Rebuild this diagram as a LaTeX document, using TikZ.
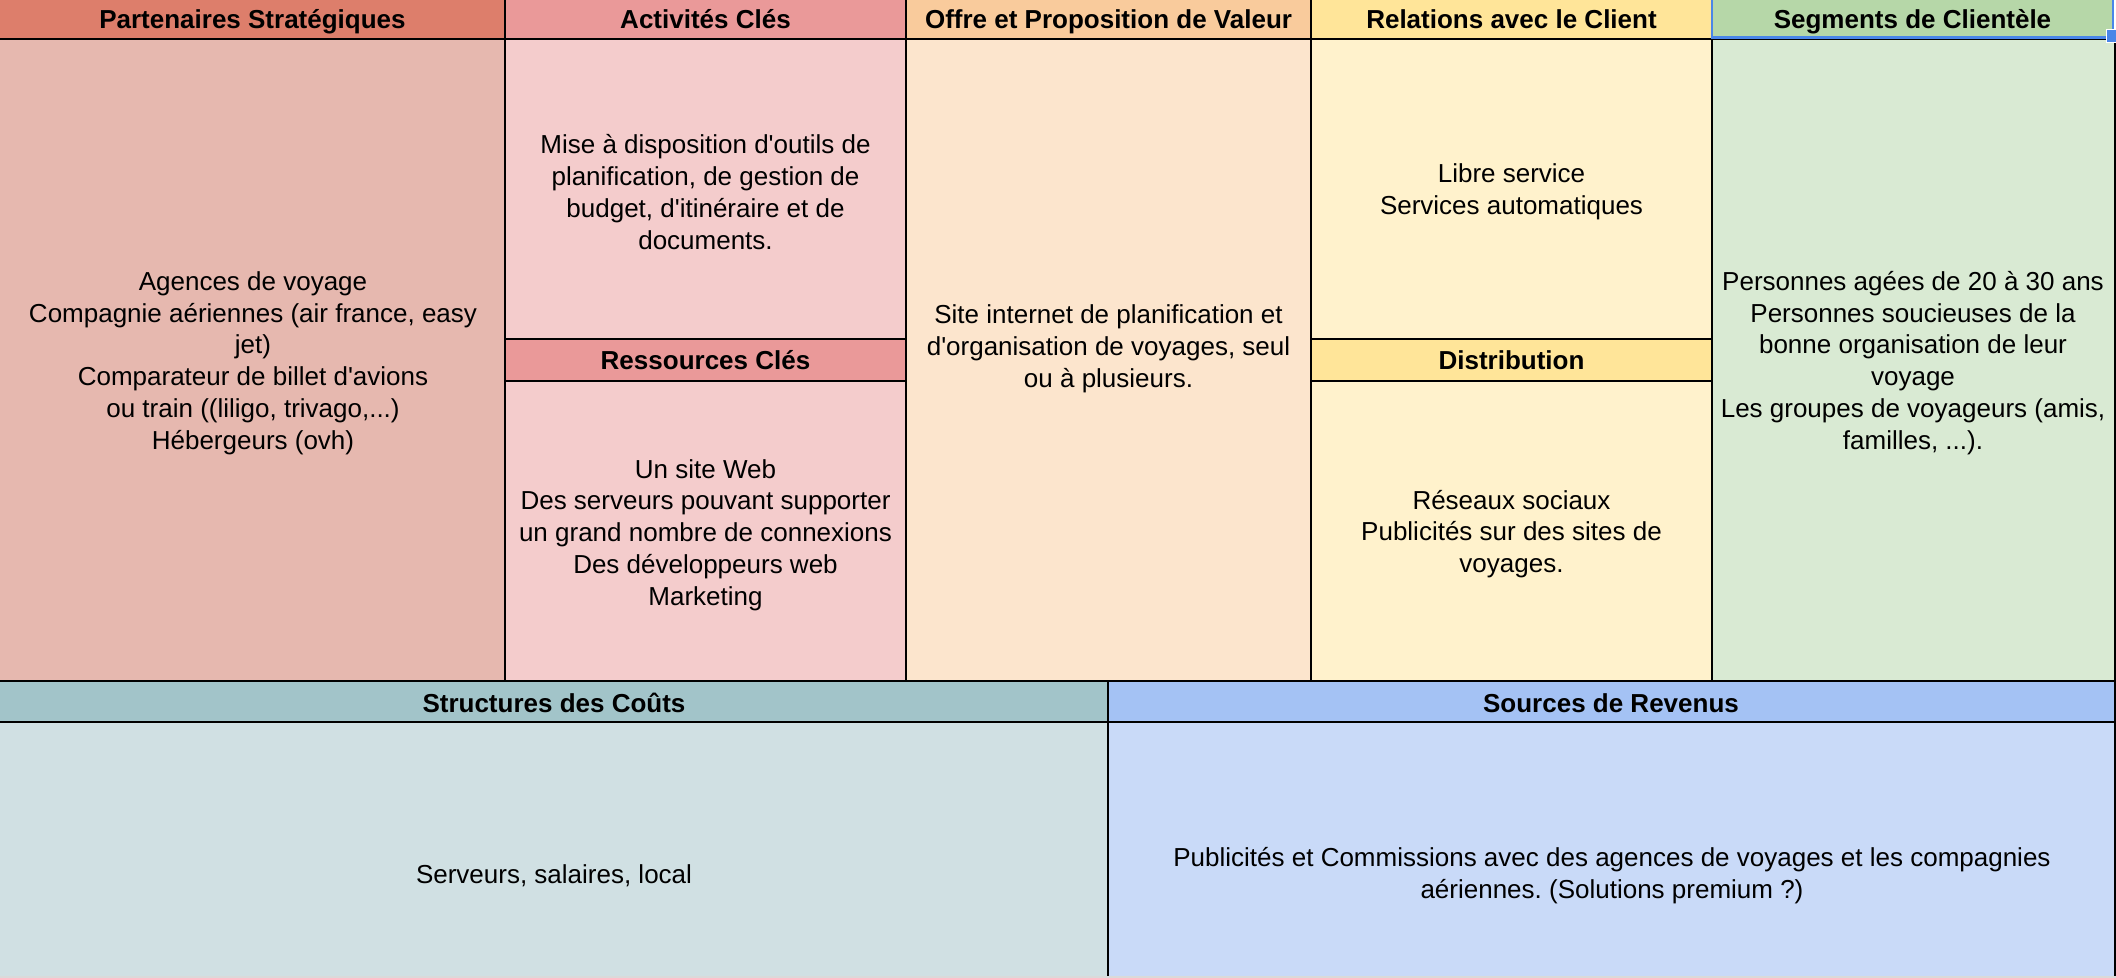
\documentclass[tikz,border=0pt]{standalone}
\usepackage{fontspec}
\setmainfont{Liberation Sans}[Ligatures=TeXOff]
\frenchspacing
% header and body colours of the nine blocks
\definecolor{hPart}{HTML}{DD7E6B}\definecolor{bPart}{HTML}{E6B8AF}
\definecolor{hAct}{HTML}{EA9999}\definecolor{bAct}{HTML}{F4CCCC}
\definecolor{hOff}{HTML}{F9CB9C}\definecolor{bOff}{HTML}{FCE5CD}
\definecolor{hRel}{HTML}{FFE599}\definecolor{bRel}{HTML}{FFF2CC}
\definecolor{hSeg}{HTML}{B6D7A8}\definecolor{bSeg}{HTML}{D9EAD3}
\definecolor{hCost}{HTML}{A2C4C9}\definecolor{bCost}{HTML}{D0E0E3}
\definecolor{hRev}{HTML}{A4C2F4}\definecolor{bRev}{HTML}{C9DAF8}
\definecolor{selblue}{HTML}{4A86E8}
\definecolor{strip}{HTML}{DADADA}
\begin{document}
\begin{tikzpicture}[x=0.5pt,y=-0.5pt,
  grid/.style={line width=1pt, draw=black},
  head/.style={font=\fontsize{13}{15.9}\selectfont\bfseries, inner sep=0pt, anchor=base},
  body/.style={font=\fontsize{13}{15.9}\selectfont\frenchspacing, align=center, inner sep=0pt, anchor=center}]
\useasboundingbox (0,0) rectangle (2116,978);
\fill[white] (0,0) rectangle (2116,978);

% cell backgrounds
\fill[hPart] (0,0) rectangle (505,39);
\fill[bPart] (0,39) rectangle (505,681);
\fill[hAct] (505,0) rectangle (906,39);
\fill[bAct] (505,39) rectangle (906,339);
\fill[hAct] (505,339) rectangle (906,381);
\fill[bAct] (505,381) rectangle (906,681);
\fill[hOff] (906,0) rectangle (1311,39);
\fill[bOff] (906,39) rectangle (1311,681);
\fill[hRel] (1311,0) rectangle (1712,39);
\fill[bRel] (1311,39) rectangle (1712,339);
\fill[hRel] (1311,339) rectangle (1712,381);
\fill[bRel] (1311,381) rectangle (1712,681);
\fill[hSeg] (1712,0) rectangle (2113,39);
\fill[bSeg] (1712,39) rectangle (2114,681);
\fill[hCost] (0,681) rectangle (1108,722);
\fill[bCost] (0,722) rectangle (1108,976);
\fill[hRev] (1108,681) rectangle (2114,722);
\fill[bRev] (1108,722) rectangle (2114,976);
\fill[strip] (0,976) rectangle (2116,978);

% grid lines
\draw[grid] (0,39) -- (2114,39);
\draw[grid] (505,339) -- (906,339) (505,381) -- (906,381);
\draw[grid] (1311,339) -- (1712,339) (1311,381) -- (1712,381);
\draw[grid] (0,681) -- (2115,681);
\draw[grid] (0,722) -- (2115,722);
\draw[grid] (505,0) -- (505,681);
\draw[grid] (906,0) -- (906,681);
\draw[grid] (1311,0) -- (1311,681);
\draw[grid] (1712,39) -- (1712,681);
\draw[grid] (2115,39) -- (2115,976);
\draw[grid] (1108,681) -- (1108,976);

% selected cell outline and its handle
\draw[selblue, line width=1.4pt] (1712,0) -- (1712,37.5) -- (2113,37.5) -- (2113,0);
\filldraw[fill=selblue, draw=white, line width=0.5pt] (2106.5,30) rectangle (2116,43);

% headers (placed on a common baseline per row)
\node[head] (hp) at (252.5,29) {Partenaires Stratégiques};
\node[head] (ha) at (705.5,29) {Activités Clés};
\node[head] (ho) at (1108.5,29) {Offre et Proposition de Valeur};
\node[head] (hr) at (1511.5,29) {Relations avec le Client};
\node[head] (hs) at (1912.5,29) {Segments de Clientèle};
\node[head] (hk) at (705.5,370) {Ressources Clés};
\node[head] (hd) at (1511.5,370) {Distribution};
\node[head] (hc) at (554,712) {Structures des Coûts};
\node[head] (hv) at (1611,712) {Sources de Revenus};

% contents
\node[body] (tp) at (253,363) {Agences de voyage\\Compagnie aériennes (air france, easy\\jet)\\Comparateur de billet d'avions\\ou train ((liligo, trivago,...)\\Hébergeurs (ovh)};
\node[body] (ta) at (705.5,192) {Mise à disposition d'outils de\\planification, de gestion de\\budget, d'itinéraire et de\\documents.};
\node[body] (tk) at (705.5,535) {Un site Web\\Des serveurs pouvant supporter\\un grand nombre de connexions\\Des développeurs web\\Marketing};
\node[body] (to) at (1108.5,349) {Site internet de planification et\\d'organisation de voyages, seul\\ou à plusieurs.};
\node[body] (tr) at (1511.5,192) {Libre service\\Services automatiques};
\node[body] (td) at (1511.5,534) {Réseaux sociaux\\Publicités sur des sites de\\voyages.};
\node[body] (ts) at (1913,363) {Personnes agées de 20 à 30 ans\\Personnes soucieuses de la\\bonne organisation de leur\\voyage\\Les groupes de voyageurs (amis,\\familles, ...).};
\node[body] (tc) at (554,876) {Serveurs, salaires, local};
\node[body] (tv) at (1612,876) {Publicités et Commissions avec des agences de voyages et les compagnies\\aériennes. (Solutions premium ?)};
\end{tikzpicture}
\end{document}
